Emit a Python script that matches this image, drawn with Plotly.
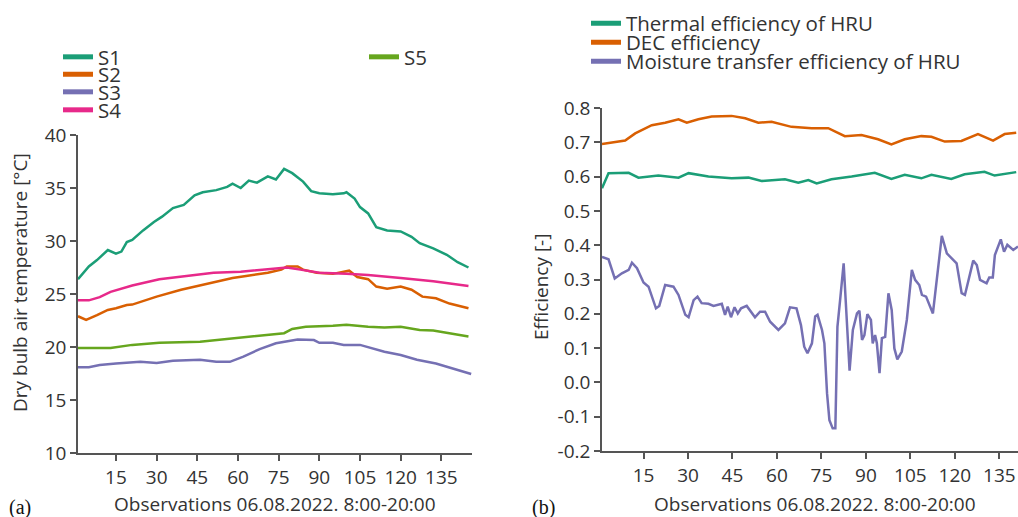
import plotly.graph_objects as go

# ---------------- data: panel (a) dry bulb air temperature [°C] ----------------
s1_obs = [1, 5, 8, 12, 15, 17, 19, 21, 25, 29, 32, 36, 40, 44, 47, 52, 56, 58, 61, 64, 67, 71, 74, 77,
          80, 84, 87, 90, 95, 99, 100, 103, 105, 108, 111, 115, 120, 124, 127, 132, 137, 141, 145]
s1_temp = [26.4, 27.6, 28.2, 29.15, 28.8, 29.0, 29.9, 30.1, 31.0, 31.8, 32.3, 33.1, 33.4, 34.3, 34.6, 34.8,
           35.1, 35.4, 35.0, 35.7, 35.5, 36.1, 35.8, 36.8, 36.4, 35.6, 34.7, 34.5, 34.4, 34.5, 34.6, 34.0,
           33.2, 32.6, 31.3, 31.0, 30.9, 30.4, 29.8, 29.3, 28.7, 28.0, 27.5]

s2_obs = [1, 4, 8, 12, 15, 19, 21, 30, 39, 49, 58, 63, 71, 76, 78, 82, 84, 89, 95, 99, 101, 104, 108, 111,
          115, 120, 124, 128, 133, 138, 145]
s2_temp = [22.9, 22.55, 23.0, 23.5, 23.65, 23.96, 24.0, 24.75, 25.4, 26.0, 26.5, 26.7, 27.0, 27.3, 27.6,
           27.6, 27.3, 27.0, 26.9, 27.1, 27.2, 26.6, 26.4, 25.7, 25.5, 25.7, 25.4, 24.75, 24.6, 24.1, 23.65]

s3_obs = [1, 5, 9, 15, 24, 30, 36, 46, 52, 57, 62, 68, 74, 82, 88, 90, 95, 99, 105, 114, 120, 126, 133, 139, 146]
s3_temp = [18.1, 18.1, 18.3, 18.45, 18.6, 18.5, 18.7, 18.8, 18.6, 18.6, 19.1, 19.8, 20.35, 20.7, 20.65, 20.4,
           20.4, 20.2, 20.2, 19.55, 19.25, 18.8, 18.45, 18.0, 17.45]

s4_obs = [1, 5, 9, 13, 21, 31, 41, 51, 61, 71, 78, 83, 90, 100, 108, 120, 132, 145]
s4_temp = [24.4, 24.4, 24.7, 25.2, 25.8, 26.4, 26.7, 27.0, 27.1, 27.3, 27.5, 27.3, 27.0, 26.9, 26.8, 26.5,
           26.2, 25.75]

s5_obs = [1, 13, 21, 31, 46, 58, 71, 77, 80, 85, 95, 100, 108, 114, 120, 127, 132, 138, 145]
s5_temp = [19.9, 19.9, 20.2, 20.4, 20.5, 20.8, 21.1, 21.3, 21.7, 21.9, 22.0, 22.1, 21.9, 21.85, 21.9, 21.6,
           21.55, 21.3, 21.0]

# ---------------- data: panel (b) efficiencies [-] ----------------
thermal_obs = [1, 3.2, 10, 13.3, 20, 26.8, 30.2, 36.9, 44.7, 50.4, 54.8, 62.7, 67.2, 70.6, 73.4, 78.4, 85.2,
               93, 98.6, 103.1, 108.7, 112.1, 118.8, 123.3, 130, 133.4, 140.7]
thermal_eff = [0.566, 0.61, 0.611, 0.597, 0.603, 0.597, 0.61, 0.6, 0.595, 0.597, 0.587, 0.592, 0.582, 0.59,
               0.58, 0.592, 0.6, 0.611, 0.593, 0.605, 0.595, 0.605, 0.593, 0.607, 0.614, 0.603, 0.613]

dec_obs = [1, 8.8, 12.2, 17.8, 22.3, 26.8, 29.6, 33.5, 38, 44.7, 49.3, 53.7, 58.2, 64.9, 71.7, 77.3, 82.9,
           88.5, 94.1, 98.6, 103.1, 108.7, 112.1, 116.6, 122.2, 127.8, 132.9, 136.8, 140.7]
dec_eff = [0.695, 0.705, 0.726, 0.75, 0.757, 0.767, 0.757, 0.767, 0.775, 0.777, 0.77, 0.757, 0.76, 0.745,
           0.741, 0.741, 0.718, 0.721, 0.709, 0.694, 0.709, 0.718, 0.716, 0.702, 0.704, 0.724, 0.705, 0.724,
           0.728]

moist_obs = [1, 3.2, 5.3, 7.7, 10, 11.1, 12.8, 15, 16.7, 19.2, 20.3, 22.3, 25.1, 26.8, 29.1, 30.2, 31.9,
             33.2, 34.6, 36.9, 38.6, 41.4, 42.5, 43.4, 44.5, 45.7, 46.8, 47.9, 49.8, 52.6, 54.3, 56, 57.7,
             60.5, 62.7, 64.4, 66.6, 68.1, 69.2, 70.3, 71.8, 72.9, 73.7, 75.2, 76, 76.9, 77.7, 78.8, 79.7,
             80.4, 81.3, 82.5, 84.5, 85.6, 87, 87.8, 88.7, 89.5, 90.5, 91.7, 92.3, 93.1, 93.7, 94.6, 95.4,
             96.5, 97.6, 98.7, 99.6, 100.6, 102.1, 103.8, 105.5, 106.6, 108, 108.9, 110.3, 112.6, 115.6,
             117.3, 120.6, 122.3, 123.4, 126.2, 127.4, 128.5, 130.7, 131.6, 132.8, 133.5, 135.5, 136.6,
             137.7, 139.7, 141.3]
moist_eff = [0.366, 0.359, 0.303, 0.318, 0.328, 0.349, 0.333, 0.291, 0.279, 0.216, 0.223, 0.284, 0.279,
             0.255, 0.197, 0.19, 0.24, 0.25, 0.231, 0.229, 0.223, 0.229, 0.197, 0.221, 0.19, 0.219, 0.201,
             0.216, 0.223, 0.19, 0.206, 0.206, 0.177, 0.153, 0.172, 0.219, 0.216, 0.167, 0.104, 0.085, 0.114,
             0.192, 0.197, 0.153, 0.114, -0.032, -0.11, -0.134, -0.134, 0.162, 0.24, 0.347, 0.034, 0.153,
             0.201, 0.209, 0.124, 0.138, 0.199, 0.182, 0.114, 0.138, 0.114, 0.027, 0.129, 0.133, 0.26, 0.211,
             0.099, 0.067, 0.09, 0.182, 0.328, 0.299, 0.284, 0.255, 0.25, 0.201, 0.427, 0.376, 0.347, 0.26,
             0.255, 0.355, 0.342, 0.299, 0.289, 0.306, 0.306, 0.371, 0.417, 0.381, 0.401, 0.386, 0.396]

x_ticks = [15, 30, 45, 60, 75, 90, 105, 120, 135]
temp_ticks = [10, 15, 20, 25, 30, 35, 40]
eff_ticks = [-0.2, -0.1, 0.0, 0.1, 0.2, 0.3, 0.4, 0.5, 0.6, 0.7, 0.8]
eff_tick_text = ["-0.2", "-0.1", "0.0", "0.1", "0.2", "0.3", "0.4", "0.5", "0.6", "0.7", "0.8"]

left_names = ["S1", "S2", "S3", "S4", "S5"]
right_names = ["Thermal efficiency of HRU", "DEC efficiency", "Moisture transfer efficiency of HRU"]

# ---------------- styling ----------------
W, H = 1018, 517
FONT = "Open Sans"
TXT = "#333333"
AX = "#555555"
C_TEAL, C_ORANGE, C_PURPLE, C_PINK, C_GREEN = "#1b9e77", "#d95f02", "#7570b3", "#e7298a", "#66a61e"
LW = 2.5
LEG_SIZE = 20.5


def px(xp):
    return xp / W


def py(yp):
    return 1 - yp / H


fig = go.Figure()

left_series = [(s1_obs, s1_temp, C_TEAL), (s2_obs, s2_temp, C_ORANGE), (s3_obs, s3_temp, C_PURPLE),
               (s4_obs, s4_temp, C_PINK), (s5_obs, s5_temp, C_GREEN)]
right_series = [(thermal_obs, thermal_eff, C_TEAL), (dec_obs, dec_eff, C_ORANGE),
                (moist_obs, moist_eff, C_PURPLE)]

# legend positions (pixel left edge / centre line of each legend entry)
left_leg_pos = [(58, 57), (58, 74.5), (58, 92), (58, 110), (364, 57)]
right_leg_pos = [(586, 23.5), (586, 42.5), (586, 61.5)]

legend_layouts = {}
k = 1
for (xs, ys, col), name, pos in zip(left_series, left_names, left_leg_pos):
    fig.add_trace(go.Scatter(x=xs, y=ys, mode="lines", line=dict(color=col, width=LW),
                             xaxis="x", yaxis="y", showlegend=False, name=name))
    lg = "legend" if k == 1 else f"legend{k}"
    fig.add_trace(go.Scatter(x=[None], y=[None], mode="lines", line=dict(color=col, width=5),
                             xaxis="x", yaxis="y", name=name, legend=lg, showlegend=True))
    legend_layouts[lg] = dict(
        x=px(pos[0]), y=py(pos[1]), xanchor="left", yanchor="middle",
        bgcolor="rgba(0,0,0,0)", font=dict(family=FONT, size=LEG_SIZE, color=TXT), itemwidth=30)
    k += 1

for (xs, ys, col), name, pos in zip(right_series, right_names, right_leg_pos):
    fig.add_trace(go.Scatter(x=xs, y=ys, mode="lines", line=dict(color=col, width=LW),
                             xaxis="x2", yaxis="y2", showlegend=False, name=name))
    lg = f"legend{k}"
    fig.add_trace(go.Scatter(x=[None], y=[None], mode="lines", line=dict(color=col, width=5),
                             xaxis="x2", yaxis="y2", name=name, legend=lg, showlegend=True))
    legend_layouts[lg] = dict(
        x=px(pos[0]), y=py(pos[1]), xanchor="left", yanchor="middle",
        bgcolor="rgba(0,0,0,0)", font=dict(family=FONT, size=LEG_SIZE, color=TXT), itemwidth=30)
    k += 1

axis_common = dict(showline=True, linecolor=AX, linewidth=1.5, ticks="outside", ticklen=6,
                   tickcolor=AX, tickwidth=1.5, showgrid=False, zeroline=False, automargin=False,
                   tickfont=dict(family=FONT, size=19, color=TXT))

fig.update_layout(
    width=W, height=H, margin=dict(l=0, r=0, t=0, b=0, pad=0, autoexpand=False),
    paper_bgcolor="white", plot_bgcolor="white",
    font=dict(family=FONT, size=19, color=TXT),
    xaxis=dict(domain=[px(78), px(472)], range=[1, 146.3], tickvals=x_ticks, anchor="y", **axis_common),
    yaxis=dict(domain=[py(453), py(135)], range=[10, 40], tickvals=temp_ticks, anchor="x", **axis_common),
    xaxis2=dict(domain=[px(602), 1.0], range=[1, 141.3], tickvals=x_ticks, anchor="y2", **axis_common),
    yaxis2=dict(domain=[py(451), py(108)], range=[-0.2, 0.8], tickvals=eff_ticks, ticktext=eff_tick_text,
                anchor="x2", **axis_common),
    **legend_layouts,
)

annots = [
    dict(text="Observations 06.08.2022. 8:00-20:00", x=px(275), y=py(504), font=dict(size=19)),
    dict(text="Observations 06.08.2022. 8:00-20:00", x=px(815), y=py(504), font=dict(size=19)),
    dict(text="Dry bulb air temperature [°C]", x=px(20), y=py(283), textangle=-90, font=dict(size=19)),
    dict(text="Efficiency [-]", x=px(541), y=py(287), textangle=-90, font=dict(size=19)),
    dict(text="(a)", x=px(19.5), y=py(507), font=dict(family="Liberation Serif", size=20, color="#111111")),
    dict(text="(b)", x=px(543), y=py(507), font=dict(family="Liberation Serif", size=20, color="#111111")),
]
for a in annots:
    fig.add_annotation(xref="paper", yref="paper", showarrow=False, xanchor="center", yanchor="middle", **a)

fig.write_html("out.html")
